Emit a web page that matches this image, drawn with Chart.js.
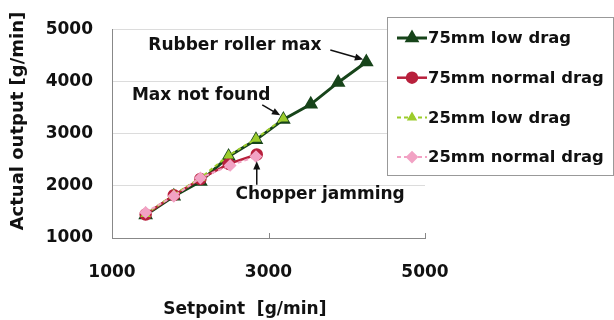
<!DOCTYPE html>
<html>
<head>
<meta charset="utf-8">
<script src="https://cdn.jsdelivr.net/npm/chart.js@4.4.1/dist/chart.umd.min.js"></script>
<style>
  html, body { margin: 0; padding: 0; background: #fff; }
  #wrap { width: 614px; height: 320px; }
</style>
</head>
<body>
<div id="wrap"><canvas id="myChart" width="614" height="320"></canvas></div>
<script>
// data (setpoint -> actual output, g/min)
const lowDrag75X = [1430, 1790, 2130, 2490, 2840, 3190, 3540, 3890, 4250];
const lowDrag75Y = [1440, 1800, 2080, 2560, 2880, 3270, 3560, 3980, 4370];
const normDrag75X = [1430, 1790, 2130, 2490, 2850];
const normDrag75Y = [1450, 1820, 2130, 2420, 2600];
const lowDrag25X = [1430, 1790, 2130, 2490, 2840, 3190];
const lowDrag25Y = [1460, 1830, 2150, 2580, 2900, 3290];
const normDrag25X = [1430, 1790, 2130, 2510, 2840];
const normDrag25Y = [1490, 1800, 2150, 2390, 2560];

const xTicks = [1000, 3000, 5000];
const yTicks = [1000, 2000, 3000, 4000, 5000];

// annotations, in data units
const notes = [
  { text: 'Rubber roller max', x: 2570, y: 4690, from: [3790, 4600], to: [4210, 4420] },
  { text: 'Max not found', x: 2140, y: 3720, from: [2920, 3550], to: [3150, 3350] },
  { text: 'Chopper jamming', x: 3660, y: 1840, from: [2850, 2020], to: [2850, 2470] }
];

function pts(xs, ys) {
  return xs.map((x, i) => ({ x: x, y: ys[i] }));
}

const font = '"DejaVu Sans", Arial, sans-serif';

const data = {
  datasets: [
    {
      label: '75mm low drag',
      data: pts(lowDrag75X, lowDrag75Y),
      borderColor: '#17441a',
      backgroundColor: '#17441a',
      borderWidth: 3,
      pointStyle: 'triangle',
      pointRadius: 5.5,
      order: 4
    },
    {
      label: '75mm normal drag',
      data: pts(normDrag75X, normDrag75Y),
      borderColor: '#b8203c',
      backgroundColor: '#b8203c',
      borderWidth: 2.5,
      pointStyle: 'circle',
      pointRadius: 5,
      order: 3
    },
    {
      label: '25mm low drag',
      data: pts(lowDrag25X, lowDrag25Y),
      borderColor: '#9ccc2c',
      backgroundColor: '#9ccc2c',
      borderWidth: 2,
      borderDash: [4, 3],
      pointStyle: 'triangle',
      pointRadius: 4,
      order: 2
    },
    {
      label: '25mm normal drag',
      data: pts(normDrag25X, normDrag25Y),
      borderColor: '#f2a2c4',
      backgroundColor: '#f2a2c4',
      borderWidth: 2,
      borderDash: [4, 3],
      pointStyle: 'rectRot',
      pointRadius: 5,
      order: 1
    }
  ]
};

function arrow(ctx, x1, y1, x2, y2) {
  const a = Math.atan2(y2 - y1, x2 - x1);
  ctx.beginPath();
  ctx.moveTo(x1, y1);
  ctx.lineTo(x2 - 6 * Math.cos(a), y2 - 6 * Math.sin(a));
  ctx.stroke();
  ctx.beginPath();
  ctx.moveTo(x2, y2);
  ctx.lineTo(x2 - 9 * Math.cos(a - 0.4), y2 - 9 * Math.sin(a - 0.4));
  ctx.lineTo(x2 - 9 * Math.cos(a + 0.4), y2 - 9 * Math.sin(a + 0.4));
  ctx.closePath();
  ctx.fill();
}

const extras = {
  id: 'extras',
  afterDraw(chart) {
    const ctx = chart.ctx;
    const xs = chart.scales.x, ys = chart.scales.y;
    ctx.save();
    // small tick marks on the x axis, pointing up
    ctx.strokeStyle = '#888';
    ctx.lineWidth = 1;
    xTicks.slice(1).forEach(v => {
      const px = Math.round(xs.getPixelForValue(v)) + 0.5;
      ctx.beginPath();
      ctx.moveTo(px, ys.bottom);
      ctx.lineTo(px, ys.bottom - 5);
      ctx.stroke();
    });

    // notes and arrows
    ctx.fillStyle = '#111';
    ctx.strokeStyle = '#111';
    ctx.lineWidth = 1.5;
    ctx.font = 'bold 17px ' + font;
    ctx.textAlign = 'center';
    ctx.textBaseline = 'middle';
    notes.forEach(n => {
      ctx.fillText(n.text, xs.getPixelForValue(n.x), ys.getPixelForValue(n.y));
      arrow(ctx, xs.getPixelForValue(n.from[0]), ys.getPixelForValue(n.from[1]),
        xs.getPixelForValue(n.to[0]), ys.getPixelForValue(n.to[1]));
    });

    // legend box
    const bx = 387, by = 17, bw = 226, bh = 158;
    ctx.fillStyle = '#fff';
    ctx.fillRect(bx, by, bw, bh);
    ctx.strokeStyle = '#999';
    ctx.lineWidth = 1;
    ctx.strokeRect(bx + 0.5, by + 0.5, bw, bh);
    ctx.textAlign = 'left';
    ctx.font = 'bold 16.4px ' + font;
    chart.data.datasets.forEach((ds, i) => {
      const cy = 38 + i * 39.7;
      ctx.strokeStyle = ds.borderColor;
      ctx.lineWidth = ds.borderWidth;
      ctx.setLineDash(ds.borderDash || []);
      ctx.beginPath();
      ctx.moveTo(397, cy);
      ctx.lineTo(427, cy);
      ctx.stroke();
      ctx.setLineDash([]);
      Chart.helpers.drawPoint(ctx, {
        pointStyle: ds.pointStyle,
        radius: ds.pointRadius,
        borderWidth: 1,
        rotation: 0
      }, 412, cy);
      ctx.fillStyle = ds.backgroundColor;
      ctx.fill();
      ctx.fillStyle = '#111';
      ctx.fillText(ds.label, 428, cy + 1);
    });
    ctx.restore();
  }
};

new Chart(document.getElementById('myChart'), {
  type: 'line',
  data: data,
  plugins: [extras],
  options: {
    responsive: false,
    animation: false,
    layout: { padding: { top: 23, right: 189, left: 0, bottom: 0 } },
    plugins: { legend: { display: false }, tooltip: { enabled: false } },
    scales: {
      x: {
        type: 'linear',
        min: 1000,
        max: 5000,
        afterBuildTicks: s => { s.ticks = xTicks.map(v => ({ value: v })); },
        afterFit: s => { s.height = 82; },
        grid: { display: false, drawTicks: false },
        border: { display: true, color: '#888', width: 1 },
        ticks: {
          padding: 24,
          color: '#111',
          callback: v => String(v),
          font: { family: font, size: 17, weight: 'bold' }
        },
        title: {
          display: true,
          text: 'Setpoint  [g/min]        ',
          color: '#111',
          padding: { top: 0, bottom: 0 },
          font: { family: font, size: 17, weight: 'bold' }
        }
      },
      y: {
        type: 'linear',
        min: 1000,
        max: 5000,
        afterBuildTicks: s => { s.ticks = yTicks.map(v => ({ value: v })); },
        afterFit: s => { s.width = 112; },
        grid: { color: '#dcdcdc', drawTicks: false },
        border: { display: true, color: '#888', width: 1 },
        ticks: {
          padding: 19,
          color: '#111',
          callback: v => String(v),
          font: { family: font, size: 17, weight: 'bold' }
        },
        title: {
          display: true,
          text: '    Actual output [g/min]',
          color: '#111',
          padding: { top: 8, bottom: 0 },
          font: { family: font, size: 18, weight: 'bold' }
        }
      }
    }
  }
});
</script>
</body>
</html>
